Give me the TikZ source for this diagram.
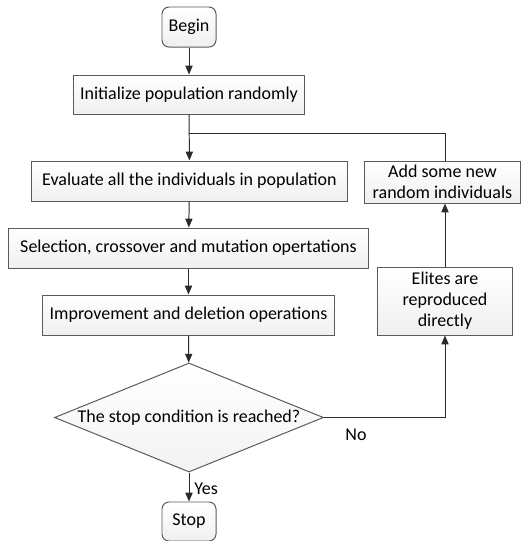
\documentclass[tikz,border=0pt]{standalone}
\usepackage{fontspec}
\setmainfont{Carlito}
\usetikzlibrary{arrows.meta, positioning, shapes.geometric, calc}
\definecolor{cline}{HTML}{2B2B2B}
\definecolor{cedge}{HTML}{5A5A5A}
\tikzset{
  every picture/.style={font=\fontsize{12.8}{15}\selectfont, line width=0.7pt},
  box/.style={draw=cedge, top color=white, bottom color=gray!12, align=center, inner sep=2pt, minimum height=1cm},
  term/.style={box, rounded corners=5pt, minimum width=1.35cm},
  cond/.style={draw=cedge, top color=white, bottom color=gray!10, diamond, aspect=2.47, inner sep=0pt, minimum width=6.725cm, minimum height=2.725cm},
  arrow/.style={-{Triangle[length=2.2mm, width=1.8mm]}, draw=cline},
  link/.style={draw=cline},
  lbl/.style={font=\fontsize{12.8}{15}\selectfont, inner sep=0pt},
}
\begin{document}
\begin{tikzpicture}[x=0.025cm, y=-0.025cm]
  \useasboundingbox (0,0) rectangle (521,541);
  % main column
  \node[term] (begin) at (189,27) {Begin};
  \node[box, minimum width=5.775cm, minimum height=0.975cm] (init) at (189,94.5) {Initialize population randomly};
  \node[box, minimum width=7.875cm] (eval) at (189.5,181) {Evaluate all the individuals in population};
  \node[box, minimum width=8.975cm] (sel) at (188.5,248) {Selection, crossover and mutation opertations};
  \node[box, minimum width=7.275cm] (impr) at (188.5,315) {Improvement and deletion operations};
  \node[cond] (cond) at (189,417.5) {The stop condition is reached?};
  \node[term, minimum height=0.975cm] (stop) at (189,521.5) {Stop};
  % loop back
  \node[box, minimum width=3.35cm, minimum height=1.7cm, align=center] (elite) at (445,301) {Elites are\\reproduced\\directly};
  \node[box, minimum width=3.9cm, minimum height=1.05cm, align=center, inner sep=1pt] (add) at (442.5,182) {Add some new\\random individuals};
  \coordinate (join) at (189,133);
  % connectors
  \draw[arrow] (begin) -- (init);
  \draw[arrow] (init) -- (eval);
  \draw[arrow] (eval) -- (sel);
  \draw[arrow] (sel) -- (impr);
  \draw[arrow] (impr) -- (cond);
  \draw[arrow] (cond) -- (stop);
  \draw[arrow] (cond.east) -| (elite.south);
  \draw[arrow] (elite.north) -- (elite.north |- add.south);
  \draw[link] (elite.north |- add.north) |- (join);
  \node[lbl, anchor=north west] (no) at (345,428) {No};
  \node[lbl, anchor=west] (yes) at (194,489) {Yes};
\end{tikzpicture}
\end{document}
